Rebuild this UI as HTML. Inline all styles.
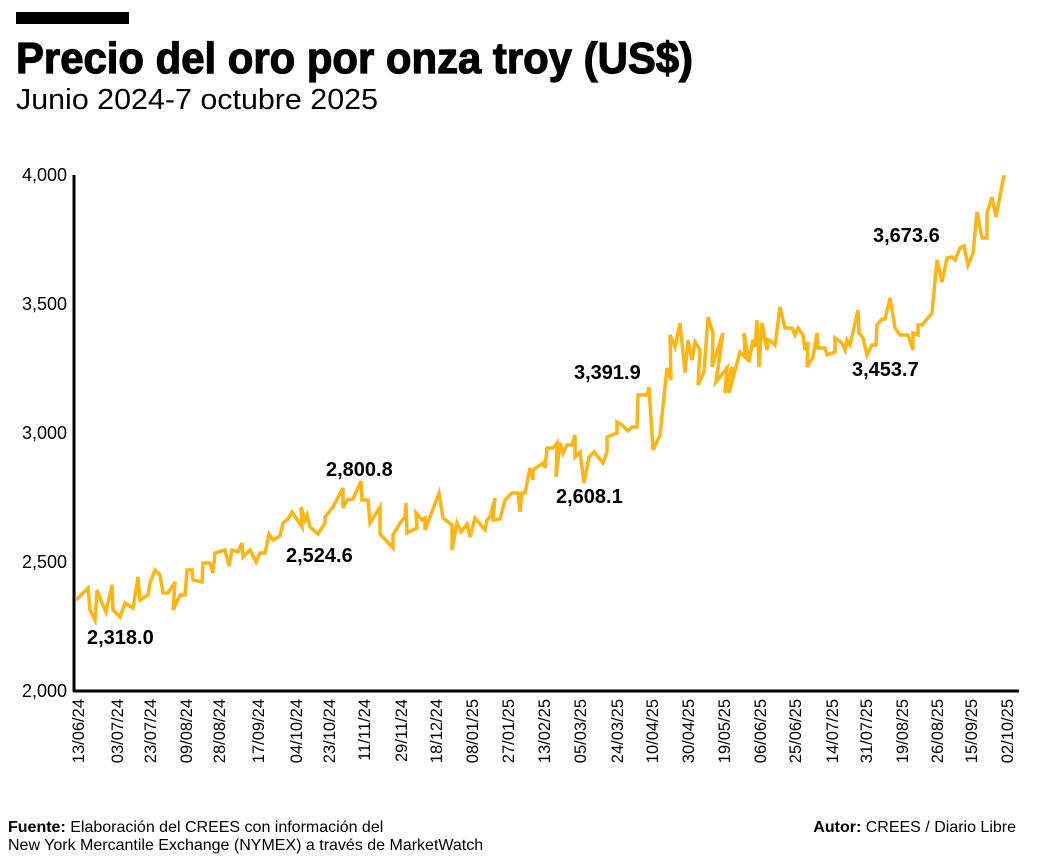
<!DOCTYPE html>
<html><head><meta charset="utf-8"><style>
body{margin:0;background:#fff;}
svg text{font-family:"Liberation Sans",sans-serif;}
</style></head><body>
<svg width="1049" height="862" viewBox="0 0 1049 862" xmlns="http://www.w3.org/2000/svg">
<rect x="16" y="12" width="113" height="12" fill="#000"/>
<text x="16" y="73" font-size="44" font-weight="900" stroke="#000" stroke-width="1.2" textLength="677" lengthAdjust="spacingAndGlyphs" style="font-family:'Liberation Sans Narrow','Liberation Sans',sans-serif">Precio del oro por onza troy (US$)</text>
<text x="16" y="109" font-size="29" textLength="362" lengthAdjust="spacingAndGlyphs">Junio 2024-7 octubre 2025</text>
<g font-size="18" text-anchor="end" fill="#000">
<text x="67" y="181">4,000</text><text x="67" y="310">3,500</text><text x="67" y="439">3,000</text><text x="67" y="568">2,500</text><text x="67" y="697">2,000</text>
</g>
<line x1="74" y1="175" x2="74" y2="692" stroke="#000" stroke-width="3"/>
<line x1="73" y1="691" x2="1019" y2="691" stroke="#000" stroke-width="3"/>
<g font-size="16.5" fill="#000" text-anchor="end">
<text transform="translate(84,699) rotate(-90)">13/06/24</text>
<text transform="translate(123,699) rotate(-90)">03/07/24</text>
<text transform="translate(156,699) rotate(-90)">23/07/24</text>
<text transform="translate(192,699) rotate(-90)">09/08/24</text>
<text transform="translate(225,699) rotate(-90)">28/08/24</text>
<text transform="translate(264,699) rotate(-90)">17/09/24</text>
<text transform="translate(302,699) rotate(-90)">04/10/24</text>
<text transform="translate(335,699) rotate(-90)">23/10/24</text>
<text transform="translate(370,699) rotate(-90)">11/11/24</text>
<text transform="translate(407,699) rotate(-90)">29/11/24</text>
<text transform="translate(442,699) rotate(-90)">18/12/24</text>
<text transform="translate(478,699) rotate(-90)">08/01/25</text>
<text transform="translate(514,699) rotate(-90)">27/01/25</text>
<text transform="translate(550,699) rotate(-90)">13/02/25</text>
<text transform="translate(586,699) rotate(-90)">05/03/25</text>
<text transform="translate(623,699) rotate(-90)">24/03/25</text>
<text transform="translate(658,699) rotate(-90)">10/04/25</text>
<text transform="translate(694,699) rotate(-90)">30/04/25</text>
<text transform="translate(730,699) rotate(-90)">19/05/25</text>
<text transform="translate(766,699) rotate(-90)">06/06/25</text>
<text transform="translate(801,699) rotate(-90)">25/06/25</text>
<text transform="translate(838,699) rotate(-90)">14/07/25</text>
<text transform="translate(872,699) rotate(-90)">31/07/25</text>
<text transform="translate(908,699) rotate(-90)">19/08/25</text>
<text transform="translate(943,699) rotate(-90)">26/08/25</text>
<text transform="translate(977,699) rotate(-90)">15/09/25</text>
<text transform="translate(1013,699) rotate(-90)">02/10/25</text>
</g>
<polyline fill="none" stroke="#FDB515" stroke-width="3.5" stroke-linejoin="miter" points="
76,600 88,588 90,610 95,620 97,590 102,603 106,612 112,585 113,610 120,617 125,603 133,608 138,577 140,600 148,595 150,583 155,570 160,575 163,593 168,593 175,582 173,610 180,595 185,595 187,570 192,570 193,580 202,582 203,563 210,563 213,573 215,553 225,550 229,566 232,550 238,552 242,543 243,557 250,550 256,562 260,553 265,553 269,534 273,540 280,536 283,523 288,519 292,512 302,527 301,507 305,520 307,515 310,527 318,534 325,523 325,517 333,507 343,488 343,508 347,500 353,499 361,481 362,500 368,500 370,523 380,507 380,534 393,548 393,535 400,523
405,517 406,503 407,533 417,528 416,513 422,520 425,518 425,530 439,493 443,518 452,525 452,550 457,523 461,532 467,524 470,537 475,518 485,530 487,520 490,517 495,498 493,520 500,519 505,500 512,493 518,493 520,512 522,493 525,493 530,468 533,480 533,470 543,463 545,468 547,448 553,448 557,443 556,477 560,443 563,453 567,445 572,445 575,435 575,457 580,452 584,483 589,457 594,452 603,463 607,452 607,437 617,433 617,422 622,425 628,431 632,427 637,427 638,395 647,395 649,387 653,450 660,435 667,368 671,380 670,335 675,347 680,323 685,373 688,340 692,360 695,342 700,350 698,385 704,372 708,317 713,333 712,367 723,333 716,382 727,368 725,393 732,367 729,393 740,352 745,357 744,333 749,362 753,340 755,347 757,320 759,367 762,323 767,350 768,340 772,342 775,345 780,307 785,328 792,328 795,335 798,328 803,335 805,350 808,342 807,367 813,357 817,333 818,348 825,348 827,355 835,352 835,338 842,343 845,350 847,340 850,345 858,310 859,333 863,338 867,355 872,345 876,345 877,325 882,319 885,319 890,298 895,328 900,335 908,335 913,350 913,333 918,335 918,325 922,325 932,313 937,260 942,282 947,258 952,257 955,260 960,248 964,246 968,265 973,253 977,212 982,238 987,238 987,213 992,197 996,217 1004,175"/>
<g font-size="20" font-weight="bold" fill="#000">
<text x="87" y="644">2,318.0</text>
<text x="286" y="562">2,524.6</text>
<text x="326" y="476">2,800.8</text>
<text x="556" y="503">2,608.1</text>
<text x="574" y="379">3,391.9</text>
<text x="852" y="376">3,453.7</text>
<text x="873" y="242">3,673.6</text>
</g>
<g font-size="16" fill="#000">
<text x="8" y="832"><tspan font-weight="bold">Fuente:</tspan> Elaboración del CREES con información del</text>
<text x="8" y="850">New York Mercantile Exchange (NYMEX) a través de MarketWatch</text>
<text x="1016" y="832" text-anchor="end"><tspan font-weight="bold">Autor:</tspan> CREES / Diario Libre</text>
</g>
</svg>
</body></html>
